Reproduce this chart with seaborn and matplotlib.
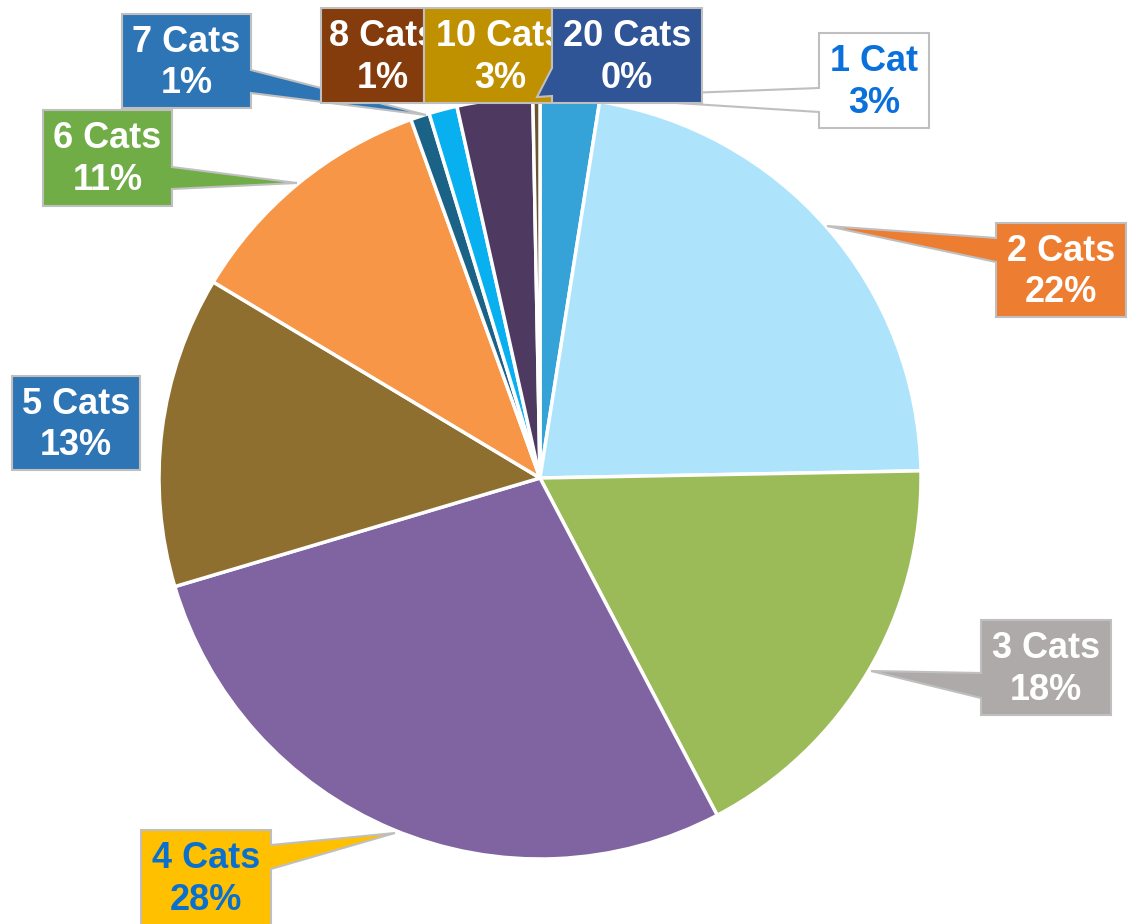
import matplotlib
matplotlib.use('Agg')
import matplotlib.pyplot as plt
from matplotlib.patches import Polygon
import seaborn as sns

# --- data ---
categories = ['1 Cat', '2 Cats', '3 Cats', '4 Cats', '5 Cats', '6 Cats',
              '7 Cats', '8 Cats', '10 Cats', '20 Cats']
shares = [2.5, 22.2, 17.6, 28.1, 13.2, 10.9, 0.8, 1.2, 3.2, 0.3]
slice_colors = ['#35a2d8', '#ade4fc', '#9bbb59', '#8064a2', '#8e6f2f',
                '#f79646', '#1b6386', '#08b0f0', '#4e3a60', '#6b5530']
box_colors = ['#ffffff', '#ed7d31', '#aeaaaa', '#ffc000', '#2e75b6',
              '#70ad47', '#2e75b6', '#843c0c', '#bf9000', '#2f5597']
text_colors = ['#0a70dc', 'white', 'white', '#0a70d0', 'white',
               'white', 'white', 'white', 'white', 'white']

# --- layout (pixel coords, origin top-left) ---
W, H = 1132, 924
CENTER = (540, 478)
RADIUS = 381
# box (left, top, right, bottom), pointer side, pointer base (y0, y1), tip
callouts = [
    ((819, 33, 929, 128), 'left', (88, 112), (582, 97)),
    ((996, 223, 1126, 317), 'left', (238, 262), (827, 226)),
    ((981, 620, 1111, 715), 'left', (673, 698), (871, 671)),
    ((141, 830, 271, 930), 'right', (845, 869), (395, 833)),
    ((12, 376, 140, 470), None, None, None),
    ((43, 110, 172, 206), 'right', (167, 189), (297, 183)),
    ((122, 14, 251, 108), 'right', (70, 93), (426, 115)),
    ((321, 8, 424, 103), None, None, None),
    ((424, 8, 552, 103), None, None, None),
    ((552, 8, 702, 103), 'left', (68, 96), (537, 97)),
]
# labels that overflow their box are left-anchored with a small pad
left_anchor = {7: 8, 8: 12}

sns.set_theme(style='white')
plt.rcParams['font.family'] = ['Liberation Sans', 'DejaVu Sans']

fig = plt.figure(figsize=(W / 100, H / 100), dpi=100)
ax = fig.add_axes([0, 0, 1, 1])

# y axis is inverted below, so clockwise-from-top on screen means
# counterclockwise from -90 in data space
ax.pie(shares, colors=slice_colors, center=CENTER, radius=RADIUS,
       startangle=-90, counterclock=True,
       wedgeprops=dict(edgecolor='white', linewidth=2.5))
ax.set_xlim(0, W)
ax.set_ylim(H, 0)
ax.set_aspect('auto')
ax.axis('off')


def callout_shape(box, side, base, tip):
    l, t, r, b = box
    pts = [(l, t), (r, t)]
    if side == 'right':
        pts += [(r, base[0]), tip, (r, base[1])]
    pts += [(r, b), (l, b)]
    if side == 'left':
        pts += [(l, base[1]), tip, (l, base[0])]
    return pts


for i, (name, v) in enumerate(zip(categories, shares)):
    box, side, base, tip = callouts[i]
    poly = Polygon(callout_shape(box, side, base, tip), closed=True,
                   facecolor=box_colors[i], edgecolor='#bfbfbf',
                   linewidth=1.5, joinstyle='miter', zorder=3 + 2 * i)
    ax.add_patch(poly)
    l, t, r, b = box
    label = f"{name}\n{int(v + 0.5)}%"
    if i in left_anchor:
        tx, ha = l + left_anchor[i], 'left'
    else:
        tx, ha = (l + r) / 2, 'center'
    ty = (t + min(b, t + 95)) / 2 + 2
    ax.text(tx, ty, label, ha=ha, va='center', multialignment='center',
            fontsize=26, fontweight='bold', color=text_colors[i],
            linespacing=1.25, zorder=4 + 2 * i)

fig.savefig('out.png', dpi=100)
